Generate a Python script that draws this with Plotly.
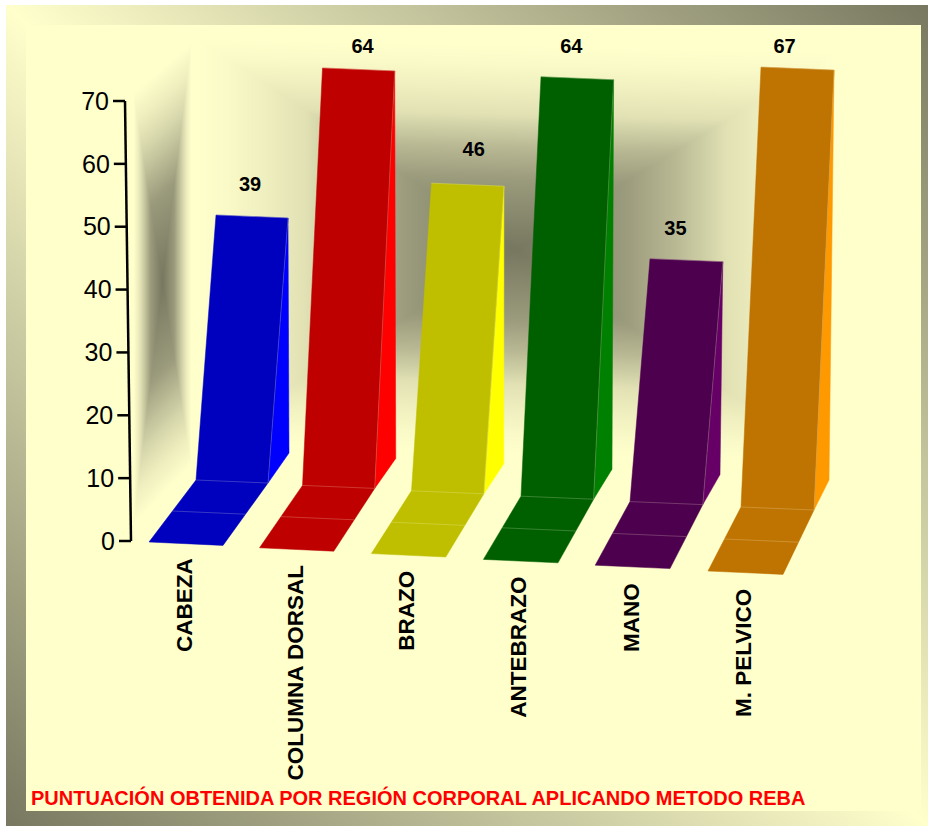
import numpy as np
import plotly.graph_objects as go

# Scores per body region
CATEGORIES = ["CABEZA", "COLUMNA DORSAL", "BRAZO", "ANTEBRAZO", "MANO", "M. PELVICO"]
SCORES = [39, 64, 46, 64, 35, 67]
FRONT_COLORS = ["#0000BF", "#BF0000", "#BFBF00", "#006000", "#4D004D", "#BF7300"]
SIDE_COLORS = ["#0000FF", "#FF0000", "#FFFF00", "#008000", "#660066", "#FF9900"]
AXIS_TICKS = [0, 10, 20, 30, 40, 50, 60, 70]
TITLE = "PUNTUACIÓN OBTENIDA POR REGIÓN CORPORAL APLICANDO METODO REBA"

W, H = 928, 826
CREAM, SHADOW = "#FFFFCC", "#777760"

# Hand-tuned nudges of the value labels relative to each bar top
LABEL_NUDGE = [(-2, -30), (4, -21), (6, -34), (-6, -30), (-11, -30), (-13, -21)]
# Slot-wise perspective corrections of the projected bars and category labels
SLOT_BOW_X = [0, -2.5, -2.5, -2, -2, 0]
SLOT_TRIM_Y = [0.5, 2, 1, 0, -2, -2]
CATEGORY_NUDGE_X = [0, 0, 0, 0, 2, 3]
RULE_COLOR = "rgba(255,255,220,0.22)"


def falloff(d):
    """Back wall tone for a normalised distance from the gradient centre."""
    return np.interp(d, [0, 0.33, 0.5, 0.66, 0.8, 0.9, 1],
                     [1, 0.75, 0.52, 0.22, 0.11, 0.04, 0])


def side_falloff(d):
    """Side wall tone, a slightly wider version of the same curve."""
    return np.interp(d, [0, 0.4, 0.7, 0.85, 1], [1, 0.75, 0.3, 0.13, 0])


def shade_field():
    """Frame, side wall and back wall shading as a 0..1 mix towards the dark tone."""
    xs = np.arange(W) + 0.5
    ys = np.arange(H) + 0.5
    X, Y = np.meshgrid(xs, ys)
    z = np.abs(X / W - Y / H)
    z[(X < 6) | (Y < 5)] = np.nan
    z[(X >= 26) & (X < 921) & (Y >= 25) & (Y < 811)] = 0.0

    # side wall: skewed quad, box gradient in its own coordinates
    u = (X - 128) / 69
    top = 98 - 60 * u
    bot = 530 - 70 * u
    v = (Y - top) / (bot - top)
    inside = (u >= 0) & (u <= 1) & (v >= 0) & (v <= 1)
    across = np.minimum(1, np.abs(2 * u - 1) * 1.2)
    z[inside] = side_falloff(np.maximum(across, np.abs(2 * v - 1)))[inside]

    # back wall
    u = (X - 197) / 638
    top = 38 + 14 * u
    bot = 443 + 22 * u
    v = (Y - top) / (bot - top)
    inside = (u >= 0) & (u <= 1) & (v >= 0) & (v <= 1)
    z[inside] = falloff(np.maximum(np.abs(2 * u - 1), np.abs(2 * v - 1)))[inside]
    return xs, ys, z


def bar_faces(i, value):
    """Project one bar to the drawing plane from its slot and its value."""
    bow = SLOT_BOW_X[i]
    front_l = (149 + 111.8 * i + bow / 2, 542 + 5.8 * i)
    front_r = (front_l[0] + 74 + 0.2 * i, front_l[1] + 3.4)
    foot_l = (196 + 109 * i + bow, 480 + 5.4 * i)
    foot_r = (foot_l[0] + 72 + 0.2 * i, foot_l[1] + 3)
    rise = 25.4 + 6.157 * value - SLOT_TRIM_Y[i]
    top_l = (foot_l[0] + 20, foot_l[1] - rise)
    top_r = (foot_r[0] + 20, foot_r[1] - rise)
    back = (289 + 108 * i + bow / 2, 453 + 5.4 * i)
    mid_l = ((front_l[0] + foot_l[0]) / 2, (front_l[1] + foot_l[1]) / 2)
    mid_r = ((front_r[0] + foot_r[0]) / 2, (front_r[1] + foot_r[1]) / 2)
    return dict(front=[front_l, front_r, foot_r, top_r, top_l, foot_l],
                side=[top_r, back, foot_r],
                rules=[(mid_l, mid_r), (foot_l, foot_r), (foot_r, top_r), (top_l, top_r)],
                top_mid=((top_l[0] + top_r[0]) / 2, (top_l[1] + top_r[1]) / 2))


def axis_point(value):
    """Point on the slanted value axis."""
    return 131 - value * 6 / 70, 541 - value * 440 / 70


def polygon(points, color):
    xs, ys = zip(*points)
    return go.Scatter(x=list(xs) + [xs[0]], y=list(ys) + [ys[0]], mode="lines",
                      fill="toself", fillcolor=color,
                      line=dict(color=color, width=0.5), hoverinfo="skip")


fig = go.Figure()

xs, ys, z = shade_field()
fig.add_trace(go.Heatmap(x=xs, y=ys, z=z, zmin=0, zmax=1, showscale=False,
                         colorscale=[[0, CREAM], [1, SHADOW]], hoverinfo="skip"))

for i, (value, front, side) in enumerate(zip(SCORES, FRONT_COLORS, SIDE_COLORS)):
    faces = bar_faces(i, value)
    fig.add_trace(polygon(faces["side"], side))
    fig.add_trace(polygon(faces["front"], front))
    for a, b in faces["rules"]:
        fig.add_trace(go.Scatter(x=[a[0], b[0]], y=[a[1], b[1]], mode="lines",
                                 line=dict(color=RULE_COLOR, width=1), hoverinfo="skip"))
    tx, ty = faces["top_mid"]
    dx, dy = LABEL_NUDGE[i]
    fig.add_trace(go.Scatter(x=[tx + dx], y=[ty + dy], mode="text", text=[str(value)],
                             textposition="middle center",
                             textfont=dict(family="Liberation Sans", size=20, color="black",
                                           weight="bold"),
                             hoverinfo="skip"))
    fig.add_annotation(x=184 + 111.2 * i + CATEGORY_NUDGE_X[i], y=556 + 6.2 * i,
                       text=CATEGORIES[i], textangle=-90,
                       xanchor="center", yanchor="top", showarrow=False,
                       font=dict(family="Liberation Sans", size=22.5, color="black", weight="bold"))

# Value axis with its ticks
axis_ends = [axis_point(AXIS_TICKS[0]), axis_point(AXIS_TICKS[-1])]
fig.add_trace(go.Scatter(x=[p[0] for p in axis_ends], y=[p[1] for p in axis_ends], mode="lines",
                         line=dict(color="black", width=2.5), hoverinfo="skip"))
for tick in AXIS_TICKS:
    ax, ay = axis_point(tick)
    fig.add_trace(go.Scatter(x=[ax - 12, ax], y=[ay, ay], mode="lines",
                             line=dict(color="black", width=2.5), hoverinfo="skip"))
    fig.add_trace(go.Scatter(x=[ax - 16], y=[ay + 2.5], mode="text", text=[str(tick)],
                             textposition="middle left",
                             textfont=dict(family="Liberation Sans", size=25, color="black"),
                             hoverinfo="skip"))

fig.add_annotation(x=29, y=797, text=TITLE, xanchor="left", yanchor="middle", showarrow=False,
                   font=dict(family="Liberation Sans", size=20, color="#FF0000", weight="bold"))

fig.update_layout(width=W, height=H, margin=dict(l=0, r=0, t=0, b=0),
                  paper_bgcolor="white", plot_bgcolor="white", showlegend=False,
                  xaxis=dict(range=[0, W], visible=False, fixedrange=True),
                  yaxis=dict(range=[H, 0], visible=False, fixedrange=True))

fig.write_html("out.html", config=dict(displayModeBar=False))
